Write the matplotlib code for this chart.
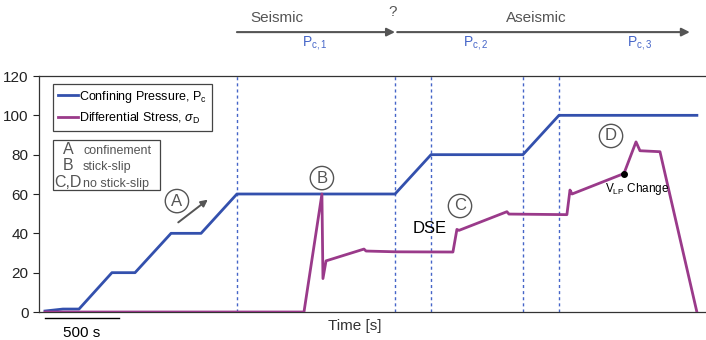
import numpy as np
import matplotlib.pyplot as plt
from matplotlib.patches import Rectangle

plt.rcParams['font.family'] = ['Liberation Sans', 'DejaVu Sans']
plt.rcParams['mathtext.fontset'] = 'custom'
plt.rcParams['mathtext.rm'] = 'Liberation Sans'
plt.rcParams['mathtext.it'] = 'Liberation Sans:italic'

# confining pressure (time [s], MPa)
pc_t = [41, 163, 272, 496, 653, 898, 1102, 1346, 2421, 2666, 3291, 3536, 4474]
pc_v = [0.5, 1.5, 1.5, 20, 20, 40, 40, 60, 60, 80, 80, 100, 100]

# differential stress
sd_t = [41, 1802, 1924, 1931, 1952, 2210, 2224, 2428, 2815, 2842, 2856, 3182, 3196,
        3590, 3611, 3625, 3978, 4060, 4087, 4223, 4474]
sd_v = [0, 0, 60, 17, 26, 32, 31, 30.6, 30.5, 42, 41.5, 51, 49.8,
        49.5, 62, 60, 70.4, 86.5, 82, 81.5, 0]

vlines = [1346, 2421, 2666, 3291, 3536]
pc_labels = ['$\\mathrm{P_{c,1}}$', '$\\mathrm{P_{c,2}}$', '$\\mathrm{P_{c,3}}$']
pc_label_t = [1877, 2972, 4087]
vlp_point = (3978, 70.4)

blue = '#3350ad'
purple = '#9a3a8a'
dblue = '#4565c8'
gray = '#555555'

fig = plt.figure(figsize=(7.06, 3.40), dpi=100)
ax = fig.add_axes([39 / 706, 28 / 340, 667 / 706, 236 / 340])

for x in vlines:
    ax.axvline(x, color=dblue, lw=1.0, ls=(0, (2.2, 2.2)), zorder=1)

ax.plot(pc_t, pc_v, color=blue, lw=2.0, label='Confining Pressure, $\\mathrm{P_c}$', zorder=3)
ax.plot(sd_t, sd_v, color=purple, lw=2.0, label='Differential Stress, $\\sigma_\\mathrm{D}$', zorder=3)
ax.plot(*vlp_point, 'o', color='black', ms=4, zorder=4)

ax.set_xlim(0, 4536)
ax.set_ylim(0, 120)
ax.set_yticks(range(0, 121, 20))
ax.set_xticks([])
ax.tick_params(axis='y', labelsize=11, length=4, width=0.8, colors='#222222')
for s in ['left', 'bottom', 'top']:
    ax.spines[s].set_color('#333333')
    ax.spines[s].set_linewidth(0.9)
ax.spines['right'].set_visible(False)
ax.set_xlabel('Time [s]', fontsize=11, color='#333333', labelpad=4)
ax.xaxis.set_label_coords(0.474, -0.03)
ax.xaxis.label.set_va('top')

leg = ax.legend(loc='upper left', bbox_to_anchor=(0.021, 0.968), fontsize=9,
                handlelength=1.6, handletextpad=0.1, borderpad=0.4, labelspacing=0.5,
                borderaxespad=0, fancybox=False, edgecolor='#444444', framealpha=1)
leg.get_frame().set_linewidth(0.9)

# second key box
ax.add_patch(Rectangle((0.021, 0.517), 0.161, 0.212, transform=ax.transAxes,
                       fill=False, ec='#444444', lw=0.9, clip_on=False))
keys = [('A', 'confinement', 0.669), ('B', 'stick-slip', 0.602), ('C,D', 'no stick-slip', 0.530)]
for k, d, yy in keys:
    if len(k) == 1:
        ax.text(0.0435, yy, k, transform=ax.transAxes, fontsize=11.5, color=gray,
                ha='center', va='baseline')
        ax.text(0.066, yy, d, transform=ax.transAxes, fontsize=9, color=gray,
                ha='left', va='baseline')
    else:
        ax.text(0.0225, yy, k, transform=ax.transAxes, fontsize=11.5, color=gray,
                ha='left', va='baseline')
        ax.text(0.0655, yy, d, transform=ax.transAxes, fontsize=9, color=gray,
                ha='left', va='baseline')

# circled letters
for lbl, x, y in [('A', 938, 56.4), ('B', 1924, 68.1), ('C', 2863, 53.9), ('D', 3890, 89.5)]:
    ax.text(x, y, lbl, fontsize=12, color=gray, ha='center', va='center',
            bbox=dict(boxstyle='circle,pad=0.25', fc='white', ec=gray, lw=1.0), zorder=5)

ax.annotate('', xy=(1163, 58), xytext=(932, 44.7),
            arrowprops=dict(arrowstyle='-|>', color=gray, lw=1.4, mutation_scale=10))
ax.text(2659, 42.7, 'DSE', fontsize=12, color='black', ha='center', va='center')
ax.text(4066, 62.5, '$\\mathrm{V_{LP}}$ Change', fontsize=8.5, color='black', ha='center', va='center')

# regime arrows above plot
ax.annotate('', xy=(2421, 1.186), xytext=(1346, 1.186), xycoords=('data', 'axes fraction'),
            textcoords=('data', 'axes fraction'),
            arrowprops=dict(arrowstyle='-|>', color=gray, lw=1.5, mutation_scale=12,
                            shrinkA=0, shrinkB=0), annotation_clip=False)
ax.annotate('', xy=(4426, 1.186), xytext=(2436, 1.186), xycoords=('data', 'axes fraction'),
            textcoords=('data', 'axes fraction'),
            arrowprops=dict(arrowstyle='-|>', color=gray, lw=1.5, mutation_scale=12,
                            shrinkA=0, shrinkB=0), annotation_clip=False)
trans = ax.get_xaxis_transform()
ax.text(1618, 1.246, 'Seismic', transform=trans, fontsize=11, color=gray, ha='center', va='center')
ax.text(2407, 1.27, '?', transform=trans, fontsize=11, color=gray, ha='center', va='center')
ax.text(3380, 1.246, 'Aseismic', transform=trans, fontsize=11, color=gray, ha='center', va='center')
for lbl, x in zip(pc_labels, pc_label_t):
    ax.text(x, 1.14, lbl, transform=trans, fontsize=10, color=dblue, ha='center', va='center')

# scale bar
ax.plot([41, 544], [-0.025, -0.025], transform=trans, color='black', lw=1.0, clip_on=False)
ax.text(292, -0.09, '500 s', transform=trans, fontsize=11, color='black', ha='center', va='center')

fig.savefig('out.png', dpi=100)
